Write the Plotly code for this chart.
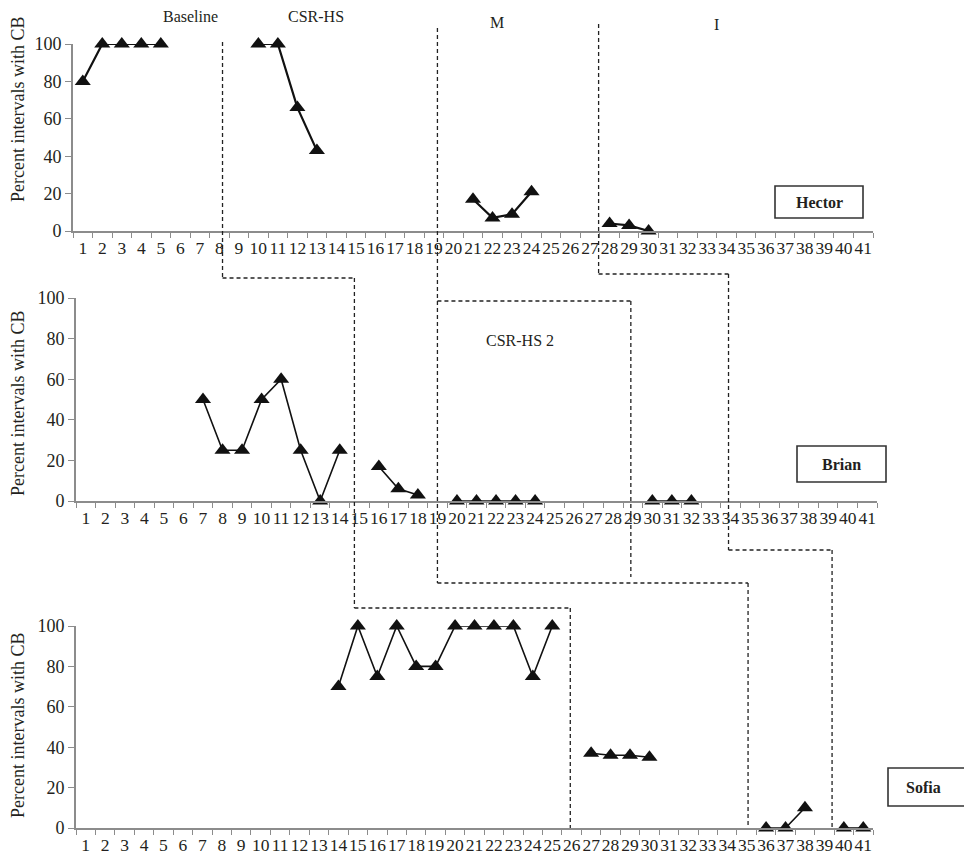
import plotly.graph_objects as go

W, H = 964, 858
FONT = "Liberation Serif"

# ---------------- data ----------------
session_numbers = list(range(1, 42))
session_labels = [str(s) for s in session_numbers]
y_tick_values = [0, 20, 40, 60, 80, 100]
y_title = "Percent intervals with CB"

participants = ["Hector", "Brian", "Sofia"]

# Hector
hector_baseline_x = [1, 2, 3, 4, 5]
hector_baseline_y = [80, 100, 100, 100, 100]
hector_csr_x = [10, 11, 12, 13]
hector_csr_y = [100, 100, 66, 43]
hector_m_x = [21, 22, 23, 24]
hector_m_y = [17, 7, 9, 21]
hector_i_x = [28, 29, 30]
hector_i_y = [4, 3, 0]

# Brian
brian_baseline_x = [7, 8, 9, 10, 11, 12, 13, 14]
brian_baseline_y = [50, 25, 25, 50, 60, 25, 0, 25]
brian_csr_x = [16, 17, 18]
brian_csr_y = [17, 6, 3]
brian_csr2_x = [20, 21, 22, 23, 24]
brian_csr2_y = [0, 0, 0, 0, 0]
brian_m_x = [30, 31, 32]
brian_m_y = [0, 0, 0]

# Sofia
sofia_baseline_x = [14, 15, 16, 17, 18, 19, 20, 21, 22, 23, 24, 25]
sofia_baseline_y = [70, 100, 75, 100, 80, 80, 100, 100, 100, 100, 75, 100]
sofia_csr_x = [27, 28, 29, 30]
sofia_csr_y = [37, 36, 36, 35]
sofia_m_x = [36, 37, 38]
sofia_m_y = [0, 0, 10]
sofia_i_x = [40, 41]
sofia_i_y = [0, 0]

phase_labels = ["Baseline", "CSR-HS", "M", "I", "CSR-HS 2"]

# phase-change lines: session position of each break
hector_breaks = [8, 19, 27.25]
brian_breaks = [14.75, 19, 28.9, 33.9]
sofia_breaks = [25.8, 34.9, 39.2]

# ---------------- layout geometry (pixels) ----------------
def px(x):
    return x / W

def py(y):
    return 1 - y / H

panels = [
    # (x-left, x-right, y-top(100), y-bottom(0))
    (73, 873, 44, 231),
    (76, 877, 298, 501),
    (76, 873, 626, 828),
]
title_centers = [110, 404, 726]

fig = go.Figure()

series = [
    [(hector_baseline_x, hector_baseline_y), (hector_csr_x, hector_csr_y),
     (hector_m_x, hector_m_y), (hector_i_x, hector_i_y)],
    [(brian_baseline_x, brian_baseline_y), (brian_csr_x, brian_csr_y),
     (brian_csr2_x, brian_csr2_y), (brian_m_x, brian_m_y)],
    [(sofia_baseline_x, sofia_baseline_y), (sofia_csr_x, sofia_csr_y),
     (sofia_m_x, sofia_m_y), (sofia_i_x, sofia_i_y)],
]
line_widths = [2.2, 1.6, 1.6]

for i, phases in enumerate(series):
    suffix = "" if i == 0 else str(i + 1)
    for xs, ys in phases:
        fig.add_trace(go.Scatter(
            x=xs, y=ys, mode="lines+markers",
            xaxis="x" + suffix, yaxis="y" + suffix,
            line=dict(color="#111111", width=line_widths[i]),
            marker=dict(symbol="triangle-up", size=14, color="#111111"),
            cliponaxis=False, showlegend=False, hoverinfo="x+y",
        ))

layout = dict(
    width=W, height=H,
    margin=dict(l=0, r=0, t=0, b=0, pad=0, autoexpand=False),
    paper_bgcolor="white", plot_bgcolor="white",
    showlegend=False,
    font=dict(family=FONT, color="#231f20"),
)

for i, (xl, xr, yt, yb) in enumerate(panels):
    suffix = "" if i == 0 else str(i + 1)
    layout["xaxis" + suffix] = dict(
        domain=[px(xl), px(xr)], range=[0.5, 41.5],
        anchor="y" + suffix, automargin=False,
        tickmode="array", tickvals=session_numbers, ticktext=session_labels,
        ticks="", ticklen=0, tickangle=0,
        minor=dict(tick0=0.5, dtick=1, ticks="outside", ticklen=5,
                   tickcolor="#8c8c8c", tickwidth=1.3),
        showline=True, linecolor="#8c8c8c", linewidth=2,
        showgrid=False, zeroline=False,
        tickfont=dict(family=FONT, size=17.5, color="#231f20"),
        fixedrange=True,
    )
    layout["yaxis" + suffix] = dict(
        domain=[py(yb), py(yt)], range=[0, 100],
        anchor="x" + suffix, automargin=False,
        tickmode="array", tickvals=y_tick_values,
        ticks="outside", ticklen=6, tickcolor="#8c8c8c", tickwidth=1.3,
        showline=True, linecolor="#8c8c8c", linewidth=2,
        showgrid=False, zeroline=False,
        tickfont=dict(family=FONT, size=18, color="#231f20"),
        fixedrange=True,
    )

fig.update_layout(**layout)

# ---------------- dashed phase-change lines ----------------
# each path: list of (session position, pixel-y)
paths = [
    [(hector_breaks[0], 42), (hector_breaks[0], 278), (brian_breaks[0], 278),
     (brian_breaks[0], 608), (sofia_breaks[0], 608), (sofia_breaks[0], 828)],
    [(hector_breaks[1], 28), (hector_breaks[1], 583), (sofia_breaks[1], 583),
     (sofia_breaks[1], 828)],
    [(brian_breaks[1], 301), (brian_breaks[2], 301), (brian_breaks[2], 577)],
    [(hector_breaks[2], 24), (hector_breaks[2], 274), (brian_breaks[3], 274),
     (brian_breaks[3], 550), (sofia_breaks[2], 550), (sofia_breaks[2], 828)],
]
shapes = []
for path in paths:
    for (x0, y0), (x1, y1) in zip(path[:-1], path[1:]):
        shapes.append(dict(
            type="line", xref="x2", yref="paper",
            x0=x0, x1=x1, y0=py(y0), y1=py(y1),
            line=dict(color="#222222", width=1.3, dash="4px,3px"),
        ))

annotations = []

# y-axis titles
for yc in title_centers:
    annotations.append(dict(
        text=y_title, xref="paper", yref="paper",
        x=px(18), y=py(yc), xanchor="center", yanchor="middle",
        textangle=-90, showarrow=False,
        font=dict(family=FONT, size=18, color="#231f20"),
    ))

# name boxes
boxes = [
    ("Hector", 775, 186, 863, 218),
    ("Brian", 797, 446, 886, 482),
    ("Sofia", 888, 768, 980, 806),
]
for name, x0, y0, x1, y1 in boxes:
    shapes.append(dict(type="rect", xref="paper", yref="paper",
                       x0=px(x0), x1=px(x1), y0=py(y0), y1=py(y1),
                       line=dict(color="#333333", width=1.6),
                       fillcolor="white"))
    cx = (x0 + x1) / 2 if name != "Sofia" else 923
    annotations.append(dict(
        text="<b>" + name + "</b>", xref="paper", yref="paper",
        x=px(cx), y=py((y0 + y1) / 2), xanchor="center", yanchor="middle",
        showarrow=False, font=dict(family=FONT, size=16, color="#231f20"),
    ))

phase_positions = [(190, 16), (316, 16), (497, 22), (716, 25), (520, 341)]
for label, (x, y) in zip(phase_labels, phase_positions):
    annotations.append(dict(
        text=label, xref="paper", yref="paper",
        x=px(x), y=py(y), xanchor="center", yanchor="middle",
        showarrow=False, font=dict(family=FONT, size=16, color="#231f20"),
    ))

fig.update_layout(shapes=shapes, annotations=annotations)

fig.write_html(
    "out.html",
    config={"displayModeBar": False},
    post_script="document.body.style.margin='0px';"
                "document.body.style.overflow='hidden';",
)
